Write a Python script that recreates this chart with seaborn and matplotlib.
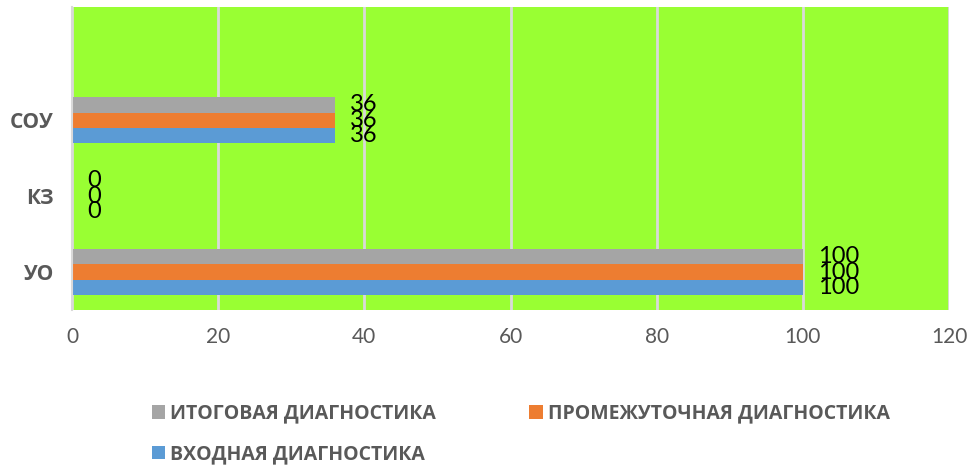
import pandas as pd
import numpy as np
import matplotlib
matplotlib.use("Agg")
import matplotlib.pyplot as plt
import seaborn as sns

# data
categories = ["СОУ", "КЗ", "УО"]
series = ["ИТОГОВАЯ ДИАГНОСТИКА", "ПРОМЕЖУТОЧНАЯ ДИАГНОСТИКА", "ВХОДНАЯ ДИАГНОСТИКА"]
itog = [36, 0, 100]
promezh = [36, 0, 100]
vhod = [36, 0, 100]

colors = ["#a5a5a5", "#ed7d31", "#5b9bd5"]

df = pd.DataFrame({
    "cat": categories * 3,
    "series": [series[0]] * 3 + [series[1]] * 3 + [series[2]] * 3,
    "value": itog + promezh + vhod,
})

sns.set_style("white")
plt.rcParams["font.family"] = ["Lato", "DejaVu Sans"]

fig = plt.figure(figsize=(9.69, 4.70), dpi=100)
ax = fig.add_axes([72 / 969, 1 - 310 / 470, 877 / 969, 303 / 470])
ax.set_facecolor("#99ff33")

sns.barplot(data=df, x="value", y="cat", hue="series", order=categories,
            hue_order=series, palette=colors, orient="h", width=0.6,
            saturation=1, linewidth=0, ax=ax, legend=True)

for c in ax.containers:
    ax.bar_label(c, padding=11, fontsize=17, color="black")

ax.set_xlim(0, 120)
ax.set_xticks(range(0, 121, 20))
ax.set_ylim(2.5, -1.49)
ax.grid(axis="x", color="#d9d9d9", linewidth=2)
ax.set_axisbelow(True)
for s in ["top", "right", "bottom"]:
    ax.spines[s].set_visible(False)
ax.spines["left"].set_color("#d9d9d9")
ax.spines["left"].set_linewidth(1.5)
ax.set_xlabel("")
ax.set_ylabel("")
ax.tick_params(axis="x", labelsize=15, colors="#595959", length=0, pad=12)
ax.tick_params(axis="y", labelsize=15, colors="#595959", length=0, pad=13)
for t in ax.get_yticklabels():
    t.set_fontweight("bold")
    t.set_family(["Open Sans", "DejaVu Sans"])

# legend: row 1 итоговая + промежуточная, row 2 входная
handles, labels = ax.get_legend_handles_labels()
ax.get_legend().remove()
order = [0, 2, 1]
leg = fig.legend([handles[i] for i in order], [labels[i] for i in order],
                 loc="lower left", bbox_to_anchor=(134 / 969, -0.025), ncol=2,
                 frameon=False, handlelength=0.7, handleheight=0.7,
                 handletextpad=0.25, columnspacing=4.8, labelspacing=1.05,
                 prop={"size": 14, "weight": "bold", "family": "Open Sans"})
for t in leg.get_texts():
    t.set_color("#595959")

fig.savefig("out.png", dpi=100)
